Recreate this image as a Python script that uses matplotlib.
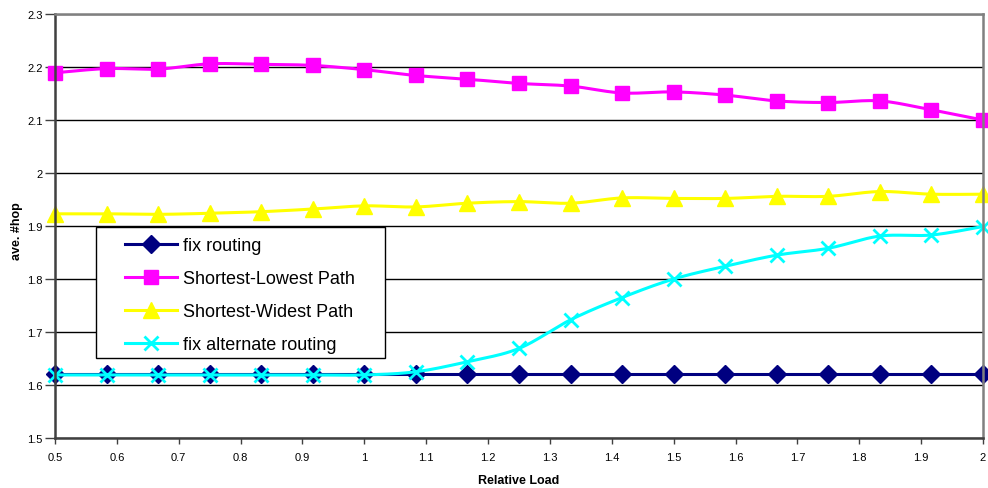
import numpy as np
import matplotlib
matplotlib.use("Agg")
import matplotlib.pyplot as plt
from matplotlib.patches import Rectangle

plt.rcParams['font.family'] = ['Liberation Sans', 'DejaVu Sans']

# ---- data ----
relative_load = [0.5, 0.5833, 0.6667, 0.75, 0.8333, 0.9167, 1.0, 1.0833, 1.1667,
                 1.25, 1.3333, 1.4167, 1.5, 1.5833, 1.6667, 1.75, 1.8333, 1.9167, 2.0]
fix_routing = [1.62] * 19
shortest_lowest = [2.189, 2.197, 2.196, 2.206, 2.205, 2.203, 2.195, 2.184, 2.177,
                   2.169, 2.164, 2.151, 2.153, 2.147, 2.136, 2.133, 2.136, 2.119, 2.100]
shortest_widest = [1.923, 1.923, 1.922, 1.924, 1.927, 1.932, 1.938, 1.936, 1.943,
                   1.946, 1.943, 1.953, 1.952, 1.952, 1.956, 1.956, 1.965, 1.960, 1.960]
fix_alternate = [1.619, 1.619, 1.619, 1.619, 1.619, 1.619, 1.619, 1.625, 1.644,
                 1.669, 1.723, 1.765, 1.800, 1.824, 1.845, 1.858, 1.881, 1.883, 1.899]
series_names = ["fix routing", "Shortest-Lowest Path", "Shortest-Widest Path", "fix alternate routing"]
x_ticks = [0.5, 0.6, 0.7, 0.8, 0.9, 1.0, 1.1, 1.2, 1.3, 1.4, 1.5, 1.6, 1.7, 1.8, 1.9, 2.0]
x_tick_labels = ["0.5", "0.6", "0.7", "0.8", "0.9", "1", "1.1", "1.2", "1.3", "1.4",
                 "1.5", "1.6", "1.7", "1.8", "1.9", "2"]
y_ticks = [1.5, 1.6, 1.7, 1.8, 1.9, 2.0, 2.1, 2.2, 2.3]
y_tick_labels = ["1.5", "1.6", "1.7", "1.8", "1.9", "2", "2.1", "2.2", "2.3"]


def smooth(xs, ys, n=20):
    """Excel-style smoothed line (Catmull-Rom Bezier) through the data points."""
    P = np.column_stack([xs, ys]).astype(float)
    P_ext = np.vstack([P[0], P, P[-1]])
    out = []
    t = np.linspace(0, 1, n, endpoint=False)
    for i in range(len(P) - 1):
        p0, p1, p2, p3 = P_ext[i], P_ext[i + 1], P_ext[i + 2], P_ext[i + 3]
        c1 = p1 + (p2 - p0) / 6.0
        c2 = p2 - (p3 - p1) / 6.0
        tt = t[:, None]
        seg = ((1 - tt) ** 3) * p1 + 3 * ((1 - tt) ** 2) * tt * c1 + 3 * (1 - tt) * tt ** 2 * c2 + tt ** 3 * p2
        out.append(seg)
    out.append(P[-1][None, :])
    out = np.vstack(out)
    return out[:, 0], out[:, 1], n


fig = plt.figure(figsize=(9.88, 4.89), dpi=100)
ax = fig.add_axes([55 / 988, 50 / 489, 928 / 988, 424 / 489])

styles = [
    dict(color="#000080", marker="D", ms=9, mfc="#000080", mec="#000080", mew=1),
    dict(color="#FF00FF", marker="s", ms=10.5, mfc="#FF00FF", mec="#FF00FF", mew=1),
    dict(color="#FFFF00", marker="^", ms=11, mfc="#FFFF00", mec="#FFFF00", mew=1),
    dict(color="#00FFFF", marker="x", ms=10, mfc="none", mec="#00FFFF", mew=2),
]
data = [fix_routing, shortest_lowest, shortest_widest, fix_alternate]
handles = []
for name, ys, st in zip(series_names, data, styles):
    sx, sy, n = smooth(relative_load, ys)
    h, = ax.plot(sx, sy, lw=2.2, markevery=n, label=name, clip_on=False, **st)
    handles.append(h)

ax.set_xlim(0.5, 2.0)
ax.set_ylim(1.5, 2.3)
ax.set_xticks(x_ticks)
ax.set_xticklabels(x_tick_labels)
ax.set_yticks(y_ticks)
ax.set_yticklabels(y_tick_labels)
ax.tick_params(axis="x", labelsize=8, length=4, width=1, color="#404040", direction="out", pad=6)
ax.tick_params(axis="y", labelsize=8, length=7, width=1, color="#404040", direction="out", pad=2)
ax.yaxis.grid(True, color="black", lw=1)
ax.set_axisbelow(True)

for s in ["top", "right"]:
    ax.spines[s].set_color("#808080")
    ax.spines[s].set_linewidth(1.8)
for s in ["left", "bottom"]:
    ax.spines[s].set_color("#404040")
    ax.spines[s].set_linewidth(1.8)

ax.set_xlabel("Relative Load", fontsize=9, fontweight="bold")
ax.set_ylabel("ave. #hop", fontsize=9, fontweight="bold")
ax.xaxis.set_label_coords((518.5 - 55) / 928, -(481 - 439) / 424)
ax.yaxis.set_label_coords((16.5 - 55) / 928, (439 - 231) / 424)
ax.xaxis.label.set_va("center")
ax.yaxis.label.set_va("center")

# legend with custom frame
x0, x1 = (96 - 55) / 928, (385 - 55) / 928
y0, y1 = (439 - 359) / 424, (439 - 228) / 424
ax.add_patch(Rectangle((x0, y0), x1 - x0, y1 - y0, transform=ax.transAxes,
                       facecolor="white", edgecolor="black", lw=1, zorder=5))
leg = ax.legend(handles=handles, loc="upper left", bbox_to_anchor=(x0 + 0.031, y1 - 0.024),
                frameon=False, fontsize=13, handlelength=2.9, handletextpad=0.35,
                labelspacing=0.88, borderaxespad=0, borderpad=0)
leg.set_zorder(6)

fig.savefig("out.png", dpi=100)
